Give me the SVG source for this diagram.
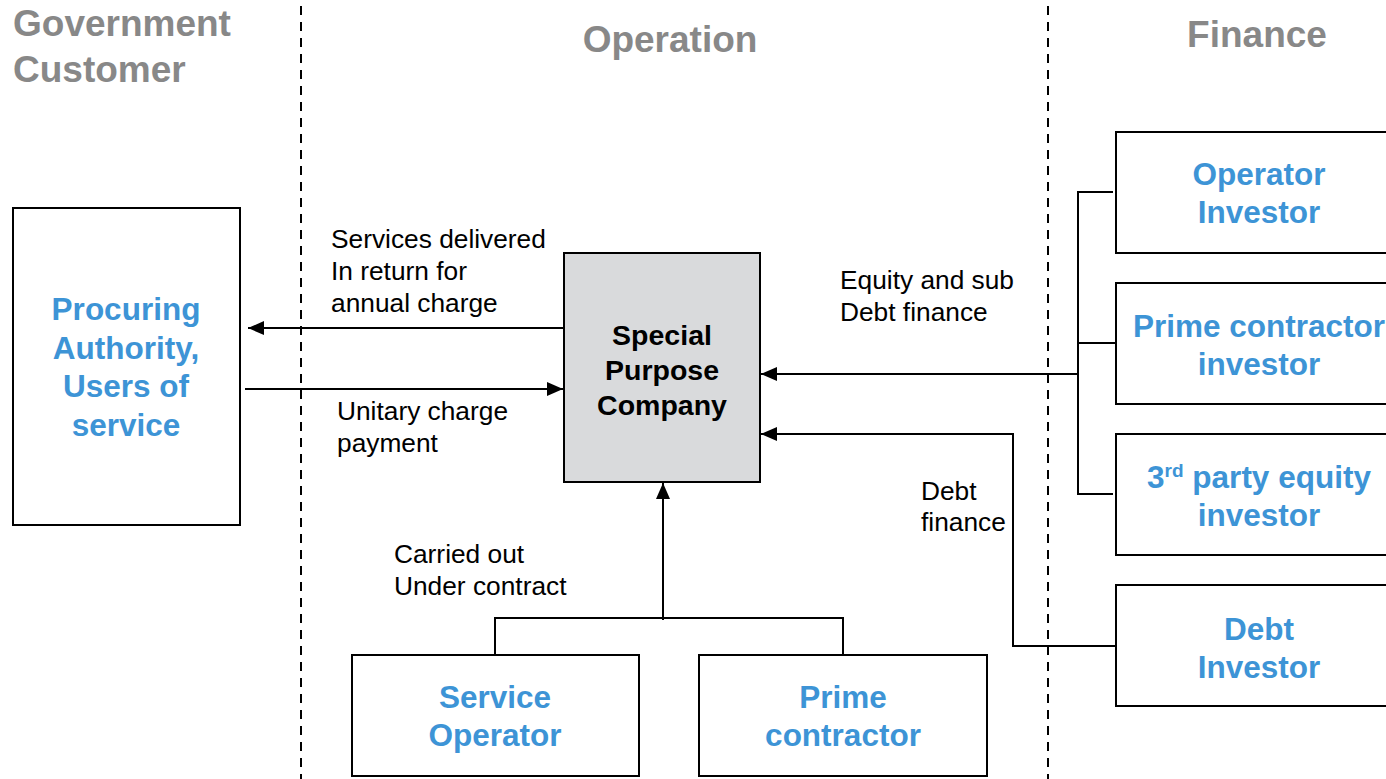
<svg xmlns="http://www.w3.org/2000/svg" width="1386" height="779" viewBox="0 0 1386 779">
<style>
.head{font-family:"Liberation Sans",Arial,sans-serif;font-weight:bold;font-size:37px;fill:#888888}
.blue{font-family:"Liberation Sans",Arial,sans-serif;font-weight:bold;font-size:31.5px;fill:#3d94d6;text-anchor:middle}
.spc{font-family:"Liberation Sans",Arial,sans-serif;font-weight:bold;font-size:28.5px;fill:#000;text-anchor:middle}
.lbl{font-family:"Liberation Sans",Arial,sans-serif;font-size:26.3px;fill:#000}
.box{fill:#fff;stroke:#000;stroke-width:2}
.line{fill:none;stroke:#000;stroke-width:2}
.dash{fill:none;stroke:#000;stroke-width:2;stroke-dasharray:9,7}
</style>
<defs>
<marker id="arrL" viewBox="0 0 16 14" refX="16" refY="7" markerWidth="16" markerHeight="14" markerUnits="userSpaceOnUse" orient="auto">
<path d="M0,0 L16,7 L0,14 z" fill="#000"/>
</marker>
</defs>
<rect width="1386" height="779" fill="#fff"/>
<g id="dividers">
<line class="dash" x1="301" y1="6" x2="301" y2="779"/>
<line class="dash" x1="1048" y1="6" x2="1048" y2="779"/>
</g>
<g id="headings">
<text class="head" x="13" y="36">Government</text>
<text class="head" x="13" y="82">Customer</text>
<text class="head" x="670" y="52" text-anchor="middle">Operation</text>
<text class="head" x="1257" y="47" text-anchor="middle">Finance</text>
</g>
<g id="connectors">
<line class="line" x1="564" y1="328" x2="248" y2="328" marker-end="url(#arrL)"/>
<line class="line" x1="245" y1="389" x2="563" y2="389" marker-end="url(#arrL)"/>
<polyline class="line" points="1113,192 1078,192 1078,494 1113,494"/>
<line class="line" x1="1078" y1="343" x2="1116" y2="343"/>
<line class="line" x1="1078" y1="374" x2="761" y2="374" marker-end="url(#arrL)"/>
<polyline class="line" points="1116,646 1013,646 1013,434 761,434" marker-end="url(#arrL)"/>
<polyline class="line" points="495,655 495,618 843,618 843,655"/>
<line class="line" x1="663" y1="620" x2="663" y2="483" marker-end="url(#arrL)"/>
</g>
<g id="labels">
<text class="lbl" x="331" y="248">Services delivered</text>
<text class="lbl" x="331" y="280">In return for</text>
<text class="lbl" x="331" y="312">annual charge</text>
<text class="lbl" x="337" y="420">Unitary charge</text>
<text class="lbl" x="337" y="452">payment</text>
<text class="lbl" x="840" y="289">Equity and sub</text>
<text class="lbl" x="840" y="321">Debt finance</text>
<text class="lbl" x="921" y="500">Debt</text>
<text class="lbl" x="921" y="531">finance</text>
<text class="lbl" x="394" y="563">Carried out</text>
<text class="lbl" x="394" y="595">Under contract</text>
</g>
<g id="procuring">
<rect class="box" x="13" y="208" width="227" height="317"/>
<text class="blue" x="126" y="320">Procuring</text>
<text class="blue" x="126" y="359">Authority,</text>
<text class="blue" x="126" y="397">Users of</text>
<text class="blue" x="126" y="436">service</text>
</g>
<g id="spc">
<rect x="564" y="253" width="196" height="229" fill="#d9dadc" stroke="#000" stroke-width="2"/>
<text class="spc" x="662" y="345">Special</text>
<text class="spc" x="662" y="380">Purpose</text>
<text class="spc" x="662" y="415">Company</text>
</g>
<g id="operator-investor">
<rect class="box" x="1116" y="132" width="280" height="121"/>
<text class="blue" x="1259" y="185">Operator</text>
<text class="blue" x="1259" y="223">Investor</text>
</g>
<g id="prime-investor">
<rect class="box" x="1116" y="283" width="280" height="121"/>
<text class="blue" x="1259" y="337">Prime contractor</text>
<text class="blue" x="1259" y="375">investor</text>
</g>
<g id="third-party">
<rect class="box" x="1116" y="434" width="280" height="121"/>
<text class="blue" x="1259" y="488">3<tspan font-size="19" dy="-11">rd</tspan><tspan dy="11"> party equity</tspan></text>
<text class="blue" x="1259" y="526">investor</text>
</g>
<g id="debt-investor">
<rect class="box" x="1116" y="585" width="280" height="121"/>
<text class="blue" x="1259" y="640">Debt</text>
<text class="blue" x="1259" y="678">Investor</text>
</g>
<g id="service-operator">
<rect class="box" x="352" y="655" width="287" height="121"/>
<text class="blue" x="495" y="708">Service</text>
<text class="blue" x="495" y="746">Operator</text>
</g>
<g id="prime-contractor">
<rect class="box" x="699" y="655" width="288" height="121"/>
<text class="blue" x="843" y="708">Prime</text>
<text class="blue" x="843" y="746">contractor</text>
</g>
</svg>
